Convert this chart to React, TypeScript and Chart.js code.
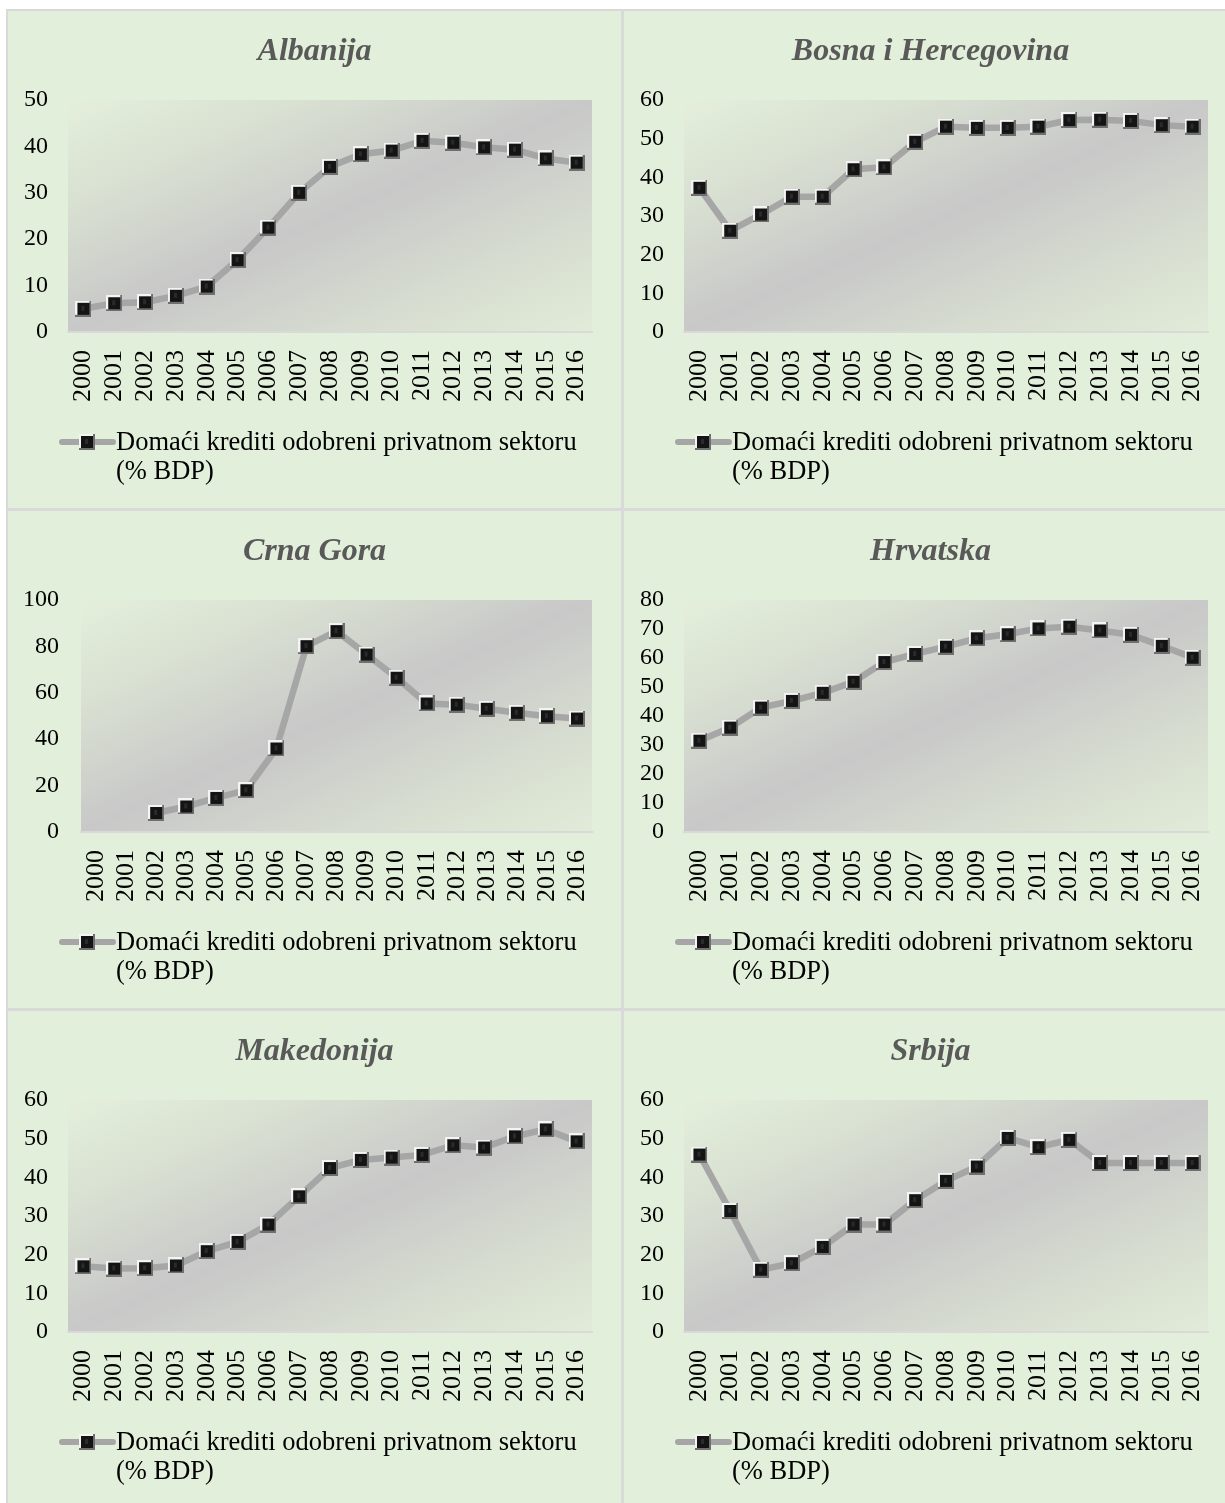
import React, { useEffect, useRef } from "react";
import { Chart, registerables } from "chart.js";

Chart.register(...registerables);

// Years on the category axis
const years = [
  "2000", "2001", "2002", "2003", "2004", "2005", "2006", "2007", "2008",
  "2009", "2010", "2011", "2012", "2013", "2014", "2015", "2016",
];

// Domestic credit to the private sector, % of GDP
const albanija = [5.0, 6.2, 6.4, 7.8, 9.8, 15.5, 22.5, 30.0, 35.6, 38.3, 39.1, 41.2, 40.8, 39.8, 39.3, 37.4, 36.5];
const bosnaIHercegovina = [37.3, 26.2, 30.4, 35.0, 35.0, 42.1, 42.6, 49.2, 53.1, 52.8, 52.8, 53.1, 54.8, 54.9, 54.6, 53.5, 53.1];
const crnaGora = [null, null, 8.2, 11.0, 14.7, 18.0, 36.0, 80.1, 86.6, 76.5, 66.5, 55.4, 54.9, 53.1, 51.4, 49.9, 48.9];
const hrvatska = [31.5, 36.0, 42.9, 45.2, 48.0, 51.8, 58.6, 61.4, 63.9, 66.8, 68.2, 70.2, 70.8, 69.5, 68.0, 64.2, 60.1];
const makedonija = [17.0, 16.4, 16.5, 17.2, 20.9, 23.3, 27.8, 35.1, 42.4, 44.5, 45.1, 45.8, 48.3, 47.7, 50.6, 52.4, 49.3];
const srbija = [45.9, 31.3, 16.1, 17.8, 22.0, 27.8, 27.8, 34.1, 39.1, 42.8, 50.2, 47.8, 49.7, 43.7, 43.7, 43.7, 43.7];

const countries = ["Albanija", "Bosna i Hercegovina", "Crna Gora", "Hrvatska", "Makedonija", "Srbija"];
const seriesByCountry = [albanija, bosnaIHercegovina, crnaGora, hrvatska, makedonija, srbija];
const yMaxima = [50, 60, 100, 80, 60, 60];
const ySteps = [10, 10, 20, 10, 10, 10];
const seriesLabelLines = ["Domaći krediti odobreni privatnom sektoru", "(% BDP)"];

// Panel geometry
const PANEL_W = 613;
const PANEL_H = 497;
const PLOT_TOP = 89;
const PLOT_RIGHT = 584;
const PLOT_BOTTOM = 321;
const SERIF = "'Liberation Serif', 'Times New Roman', serif";
const LINE_COLOR = "#a6a6a6";

let markerCache: HTMLCanvasElement | null = null;
function markerImage(): HTMLCanvasElement {
  if (markerCache) return markerCache;
  const c = document.createElement("canvas");
  c.width = 16;
  c.height = 16;
  const g = c.getContext("2d")!;
  g.fillStyle = "#b5b5b5";
  g.fillRect(0, 0, 16, 16);
  g.fillStyle = "#f4f4f4";
  g.fillRect(0, 0, 16, 2);
  g.fillRect(0, 0, 2, 16);
  g.fillStyle = "#6f6f6f";
  g.fillRect(0, 14, 16, 2);
  g.fillRect(14, 0, 2, 16);
  g.fillStyle = "#141414";
  g.fillRect(2, 2, 12, 12);
  g.fillStyle = "#2a2a2a";
  g.fillRect(6, 5, 3, 5);
  markerCache = c;
  return c;
}

const plotShade = {
  id: "plotShade",
  beforeDraw(chart: any) {
    const { ctx, chartArea: a } = chart;
    const w = a.right - a.left;
    const h = a.bottom - a.top;
    const cx = a.left + w / 2;
    const cy = a.top + h / 2;
    const k = (w * h) / (w * w + h * h);
    const g = ctx.createLinearGradient(cx - k * h, cy - k * w, cx + k * h, cy + k * w);
    g.addColorStop(0, "#e4efdb");
    g.addColorStop(0.22, "#d9e1d2");
    g.addColorStop(0.5, "#c8c8c8");
    g.addColorStop(0.8, "#d8dfd1");
    g.addColorStop(1, "#e1ebd8");
    ctx.save();
    ctx.fillStyle = g;
    ctx.fillRect(a.left, a.top, w, h);
    ctx.restore();
  },
};

const panelText = {
  id: "panelText",
  afterDraw(chart: any, _args: any, opts: any) {
    const { ctx } = chart;
    ctx.save();
    // title
    ctx.font = `italic bold 32px ${SERIF}`;
    ctx.fillStyle = "#595959";
    ctx.textAlign = "center";
    ctx.textBaseline = "alphabetic";
    ctx.fillText(opts.title, PANEL_W / 2, 49);
    // legend
    const ly = 431;
    ctx.strokeStyle = LINE_COLOR;
    ctx.lineWidth = 6;
    ctx.lineCap = "round";
    ctx.beginPath();
    ctx.moveTo(54, ly);
    ctx.lineTo(105, ly);
    ctx.stroke();
    const m = markerImage();
    ctx.drawImage(m, 79 - m.width / 2, ly - m.height / 2);
    ctx.font = `26.5px ${SERIF}`;
    ctx.fillStyle = "#000000";
    ctx.textAlign = "left";
    seriesLabelLines.forEach((line, i) => ctx.fillText(line, 108, 439 + i * 29));
    ctx.restore();
  },
};

function Panel({ index }: { index: number }) {
  const ref = useRef<HTMLCanvasElement>(null);
  useEffect(() => {
    const canvas = ref.current!;
    const plotLeft = yMaxima[index] >= 100 ? 73 : 60;
    const chart = new Chart(canvas, {
      type: "line",
      data: {
        labels: years,
        datasets: [
          {
            label: seriesLabelLines.join(" "),
            data: seriesByCountry[index],
            borderColor: LINE_COLOR,
            borderWidth: 6.5,
            pointStyle: markerImage(),
            pointRadius: 8,
            pointHoverRadius: 8,
            tension: 0,
            spanGaps: false,
            clip: false,
          },
        ],
      },
      options: {
        responsive: false,
        animation: false,
        devicePixelRatio: 1,
        events: [],
        layout: { padding: { top: PLOT_TOP, right: PANEL_W - PLOT_RIGHT, bottom: 0, left: 0 } },
        plugins: {
          legend: { display: false },
          title: { display: false },
          tooltip: { enabled: false },
          panelText: { title: countries[index] },
        } as any,
        scales: {
          x: {
            type: "category",
            offset: true,
            grid: { display: false, drawTicks: false },
            border: { display: true, color: "#d9d9d9", width: 2 },
            ticks: {
              autoSkip: false,
              maxRotation: 90,
              minRotation: 90,
              padding: 18,
              color: "#000000",
              font: { family: SERIF, size: 26 },
            },
            afterFit(scale: any) {
              scale.height = PANEL_H - PLOT_BOTTOM;
              scale.paddingLeft = 0;
              scale.paddingRight = 0;
            },
          },
          y: {
            min: 0,
            max: yMaxima[index],
            grid: { display: false, drawTicks: false },
            border: { display: false },
            ticks: {
              autoSkip: false,
              stepSize: ySteps[index],
              padding: plotLeft === 60 ? 20 : 22,
              color: "#000000",
              font: { family: SERIF, size: 24 },
            },
            afterFit(scale: any) {
              scale.width = plotLeft;
              scale.paddingTop = 0;
              scale.paddingBottom = 0;
            },
          },
        },
      },
      plugins: [plotShade, panelText],
    });
    return () => chart.destroy();
  }, [index]);
  return (
    <div style={{ width: PANEL_W, height: PANEL_H, background: "#e2efda", overflow: "hidden" }}>
      <canvas ref={ref} width={PANEL_W} height={PANEL_H} />
    </div>
  );
}

export default function App() {
  return (
    <div
      style={{
        position: "absolute",
        left: 0,
        top: 0,
        width: 1225,
        height: 1503,
        overflow: "hidden",
        background: "#ffffff",
      }}
    >
      <div
        style={{
          position: "absolute",
          left: 6,
          top: 9,
          padding: 2,
          background: "#d9d9d9",
          display: "grid",
          gridTemplateColumns: `${PANEL_W}px ${PANEL_W}px`,
          gridAutoRows: `${PANEL_H}px`,
          gap: 3,
        }}
      >
        {countries.map((_, i) => (
          <Panel key={i} index={i} />
        ))}
      </div>
    </div>
  );
}
